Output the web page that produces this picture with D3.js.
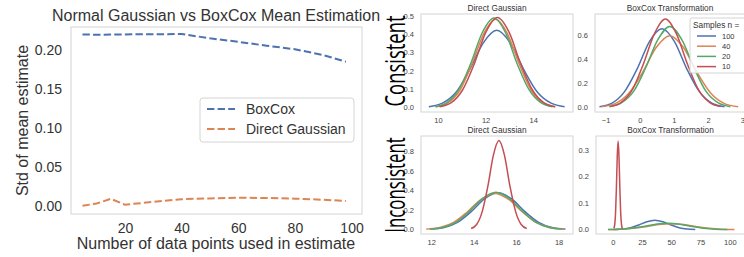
<!DOCTYPE html>
<html>
<head>
<meta charset="utf-8">
<title>Normal Gaussian vs BoxCox</title>
<script src="https://d3js.org/d3.v7.min.js"></script>
<style>
  body { margin: 0; background: #fff; }
  svg { display: block; font-family: "Liberation Sans", Arial, sans-serif; }
  .frame { fill: none; stroke: #d4d4d4; stroke-width: 1px; }
  .axis path { display: none; }
  .axis line { display: none; }
</style>
</head>
<body>
<svg width="744" height="257"></svg>
<script>
// ---- left chart: std of mean estimate ----
var nPoints   = [5, 10, 15, 20, 30, 40, 50, 60, 70, 80, 90, 98];
var boxcoxStd = [0.2200, 0.2195, 0.2198, 0.2200, 0.2202, 0.2205, 0.2150, 0.2105, 0.2055, 0.2010, 0.1935, 0.1850];
var directStd = [0.0000, 0.0030, 0.0090, 0.0015, 0.0050, 0.0085, 0.0095, 0.0105, 0.0100, 0.0092, 0.0078, 0.0062];
var lineLabels = ["BoxCox", "Direct Gaussian"];
var leftXTicks = [20, 40, 60, 80, 100];
var leftYTicks = [0, 0.05, 0.10, 0.15, 0.20];

// ---- right panels: fitted densities, one curve per sample size ----
var sampleSizes = ["100", "40", "20", "10"];

var consDirectX = [
  [9.62, 10.19, 10.76, 11.33, 11.90, 12.47, 13.04, 13.61, 14.18, 14.75, 15.32],
  [9.93, 10.43, 10.93, 11.42, 11.92, 12.42, 12.92, 13.42, 13.91, 14.41, 14.91],
  [9.89, 10.38, 10.87, 11.37, 11.86, 12.35, 12.84, 13.33, 13.83, 14.32, 14.81],
  [10.07, 10.56, 11.04, 11.53, 12.01, 12.50, 12.99, 13.47, 13.96, 14.44, 14.93]
];
var consDirectY = [
  [0.005, 0.024, 0.083, 0.205, 0.351, 0.420, 0.351, 0.205, 0.083, 0.024, 0.005],
  [0.005, 0.027, 0.095, 0.234, 0.401, 0.480, 0.401, 0.234, 0.095, 0.027, 0.005],
  [0.005, 0.027, 0.096, 0.237, 0.407, 0.487, 0.407, 0.237, 0.096, 0.027, 0.005],
  [0.005, 0.027, 0.097, 0.239, 0.409, 0.490, 0.409, 0.239, 0.097, 0.027, 0.005]
];

var consBoxcoxX = [
  [-1.18, -0.81, -0.45, -0.08, 0.28, 0.65, 1.02, 1.38, 1.75, 2.11, 2.48],
  [-1.12, -0.72, -0.32, 0.08, 0.48, 0.88, 1.28, 1.68, 2.08, 2.48, 2.88],
  [-0.89, -0.54, -0.18, 0.17, 0.53, 0.88, 1.23, 1.59, 1.94, 2.30, 2.65],
  [-0.87, -0.55, -0.22, 0.10, 0.43, 0.75, 1.07, 1.40, 1.72, 2.05, 2.37]
];
var consBoxcoxY = [
  [0.007, 0.037, 0.130, 0.319, 0.547, 0.655, 0.547, 0.319, 0.130, 0.037, 0.007],
  [0.007, 0.033, 0.118, 0.291, 0.499, 0.598, 0.499, 0.291, 0.118, 0.033, 0.007],
  [0.007, 0.038, 0.134, 0.329, 0.564, 0.675, 0.564, 0.329, 0.134, 0.038, 0.007],
  [0.008, 0.041, 0.146, 0.358, 0.615, 0.736, 0.615, 0.358, 0.146, 0.041, 0.008]
];

var inconDirectX = [
  [11.97, 12.61, 13.24, 13.88, 14.51, 15.15, 15.79, 16.42, 17.06, 17.69, 18.33],
  [11.76, 12.41, 13.06, 13.70, 14.35, 15.00, 15.65, 16.30, 16.94, 17.59, 18.24],
  [11.93, 12.55, 13.18, 13.80, 14.43, 15.05, 15.67, 16.30, 16.92, 17.55, 18.17],
  [13.88, 14.14, 14.40, 14.67, 14.93, 15.19, 15.45, 15.71, 15.98, 16.24, 16.50]
];
var inconDirectY = [
  [0.004, 0.021, 0.074, 0.183, 0.314, 0.376, 0.314, 0.183, 0.074, 0.021, 0.004],
  [0.004, 0.021, 0.073, 0.180, 0.309, 0.370, 0.309, 0.180, 0.073, 0.021, 0.004],
  [0.004, 0.021, 0.076, 0.186, 0.320, 0.383, 0.320, 0.186, 0.076, 0.021, 0.004],
  [0.010, 0.051, 0.181, 0.444, 0.763, 0.913, 0.763, 0.444, 0.181, 0.051, 0.010]
];

var inconBoxcoxX = [
  [1.5, 8.4, 15.3, 22.2, 29.1, 36.0, 42.9, 49.8, 56.7, 63.6, 70.5],
  [-4.0, 6.8, 17.6, 28.4, 39.2, 50.0, 60.8, 71.6, 82.4, 93.2, 104.0],
  [-4.0, 6.2, 16.4, 26.6, 36.8, 47.0, 57.2, 67.4, 77.6, 87.8, 98.0],
  [1.00, 1.72, 2.44, 3.16, 3.88, 4.60, 5.32, 6.04, 6.76, 7.48, 8.20]
];
var inconBoxcoxY = [
  [0.0004, 0.0020, 0.0069, 0.0170, 0.0292, 0.0350, 0.0292, 0.0170, 0.0069, 0.0020, 0.0004],
  [0.0002, 0.0012, 0.0044, 0.0107, 0.0184, 0.0220, 0.0184, 0.0107, 0.0044, 0.0012, 0.0002],
  [0.0003, 0.0013, 0.0047, 0.0114, 0.0196, 0.0235, 0.0196, 0.0114, 0.0047, 0.0013, 0.0003],
  [0.004, 0.019, 0.066, 0.162, 0.278, 0.333, 0.278, 0.162, 0.066, 0.019, 0.004]
];

var palette = ["#4c72b0", "#dd8452", "#55a868", "#c44e52"];

var svg = d3.select("svg");

// ================= left chart =================
var left = svg.append("g");
var xL = d3.scaleLinear().domain([0.95, 103.7]).range([71, 362]);
var yL = d3.scaleLinear().domain([-0.0105, 0.2295]).range([214, 27]);

left.append("rect").attr("class", "frame")
    .attr("x", 71).attr("y", 27).attr("width", 291).attr("height", 187);

left.append("g").attr("class", "axis")
    .attr("transform", "translate(0,214)")
    .call(d3.axisBottom(xL).tickValues(leftXTicks).tickSize(0).tickPadding(9.5))
    .selectAll("text").attr("font-size", 14).attr("fill", "#333")
    .style("font-family", "Liberation Sans, Arial, sans-serif");

left.append("g").attr("class", "axis")
    .attr("transform", "translate(71,0)")
    .call(d3.axisLeft(yL).tickValues(leftYTicks).tickFormat(d3.format(".2f")).tickSize(0).tickPadding(9))
    .selectAll("text").attr("font-size", 14).attr("fill", "#333")
    .style("font-family", "Liberation Sans, Arial, sans-serif");

var lineL = d3.line()
    .x(function(d) { return xL(d[0]); })
    .y(function(d) { return yL(d[1]); });

[boxcoxStd, directStd].forEach(function(series, i) {
  left.append("path")
      .attr("d", lineL(d3.zip(nPoints, series)))
      .attr("fill", "none")
      .attr("stroke", palette[i])
      .attr("stroke-width", 2)
      .attr("stroke-dasharray", "7.4,3.2");
});

left.append("text")
    .attr("x", 216).attr("y", 21)
    .attr("text-anchor", "middle")
    .attr("font-size", 16).attr("fill", "#333")
    .text("Normal Gaussian vs BoxCox Mean Estimation");

left.append("text")
    .attr("x", 216).attr("y", 249)
    .attr("text-anchor", "middle")
    .attr("font-size", 16).attr("fill", "#333")
    .text("Number of data points used in estimate");

left.append("text")
    .attr("transform", "translate(28,120.5) rotate(-90)")
    .attr("text-anchor", "middle")
    .attr("font-size", 16).attr("fill", "#333")
    .text("Std of mean estimate");

// legend
var leg = left.append("g");
leg.append("rect")
    .attr("x", 200).attr("y", 98).attr("width", 154).attr("height", 44)
    .attr("rx", 3)
    .attr("fill", "#fff").attr("stroke", "#d4d4d4");
lineLabels.forEach(function(lbl, i) {
  var yy = 109 + i * 20;
  leg.append("line")
      .attr("x1", 207).attr("x2", 235).attr("y1", yy).attr("y2", yy)
      .attr("stroke", palette[i]).attr("stroke-width", 2)
      .attr("stroke-dasharray", "7.4,3.2");
  leg.append("text")
      .attr("x", 246).attr("y", yy).attr("dy", "0.35em")
      .attr("font-size", 14).attr("fill", "#333")
      .text(lbl);
});

// ================= right panels =================
function drawPanel(cfg) {
  var g = svg.append("g");
  var x = d3.scaleLinear().domain(cfg.xDomain).range([cfg.x0, cfg.x0 + cfg.w]);
  var y = d3.scaleLinear().domain(cfg.yDomain).range([cfg.y0 + cfg.h, cfg.y0]);

  g.append("rect").attr("class", "frame")
      .attr("x", cfg.x0).attr("y", cfg.y0).attr("width", cfg.w).attr("height", cfg.h);

  g.append("g").attr("class", "axis")
      .attr("transform", "translate(0," + (cfg.y0 + cfg.h) + ")")
      .call(d3.axisBottom(x).tickValues(cfg.xTicks).tickFormat(cfg.xFormat).tickSize(0).tickPadding(6))
      .selectAll("text").attr("font-size", 7.5).attr("fill", "#444")
      .style("font-family", "Liberation Sans, Arial, sans-serif");

  g.append("g").attr("class", "axis")
      .attr("transform", "translate(" + cfg.x0 + ",0)")
      .call(d3.axisLeft(y).tickValues(cfg.yTicks).tickFormat(d3.format(".1f")).tickSize(0).tickPadding(7))
      .selectAll("text").attr("font-size", 7.5).attr("fill", "#444")
      .style("font-family", "Liberation Sans, Arial, sans-serif");

  var line = d3.line()
      .x(function(d) { return x(d[0]); })
      .y(function(d) { return y(d[1]); })
      .curve(d3.curveMonotoneX);

  cfg.xs.forEach(function(xs, i) {
    g.append("path")
        .attr("d", line(d3.zip(xs, cfg.ys[i])))
        .attr("fill", "none")
        .attr("stroke", palette[i])
        .attr("stroke-width", 1.5);
  });

  g.append("text")
      .attr("x", cfg.x0 + cfg.w / 2).attr("y", cfg.y0 - 3)
      .attr("text-anchor", "middle")
      .attr("font-size", 8.3).attr("fill", "#333")
      .text(cfg.title);
  return g;
}

drawPanel({
  x0: 421, y0: 14, w: 152, h: 98,
  xDomain: [9.29, 15.67], yDomain: [-0.024, 0.509],
  xTicks: [10, 12, 14], xFormat: d3.format("d"),
  yTicks: [0, 0.1, 0.2, 0.3, 0.4, 0.5],
  xs: consDirectX, ys: consDirectY, title: "Direct Gaussian"
});
var tr = drawPanel({
  x0: 595, y0: 14, w: 150, h: 98,
  xDomain: [-1.31, 3.08], yDomain: [-0.037, 0.778],
  xTicks: [-1, 0, 1, 2, 3], xFormat: d3.format("d"),
  yTicks: [0, 0.2, 0.4, 0.6],
  xs: consBoxcoxX, ys: consBoxcoxY, title: "BoxCox Transformation"
});
drawPanel({
  x0: 421, y0: 136, w: 152, h: 98,
  xDomain: [11.52, 18.68], yDomain: [-0.046, 0.959],
  xTicks: [12, 14, 16, 18], xFormat: d3.format("d"),
  yTicks: [0, 0.2, 0.4, 0.6, 0.8],
  xs: inconDirectX, ys: inconDirectY, title: "Direct Gaussian"
});
drawPanel({
  x0: 596, y0: 136, w: 149, h: 98,
  xDomain: [-14.3, 113], yDomain: [-0.017, 0.352],
  xTicks: [0, 25, 50, 75, 100], xFormat: d3.format("d"),
  yTicks: [0, 0.1, 0.2, 0.3],
  xs: inconBoxcoxX, ys: inconBoxcoxY, title: "BoxCox Transformation"
});

// legend for sample sizes (top right panel)
var leg2 = tr.append("g");
leg2.append("rect")
    .attr("x", 690).attr("y", 18).attr("width", 60).attr("height", 55)
    .attr("rx", 2)
    .attr("fill", "#fff").attr("fill-opacity", 0.85).attr("stroke", "#d4d4d4");
leg2.append("text")
    .attr("x", 693).attr("y", 28)
    .attr("font-size", 8.3).attr("fill", "#333")
    .text("Samples n =");
sampleSizes.forEach(function(n, i) {
  var yy = 36 + i * 10.2;
  leg2.append("line")
      .attr("x1", 697).attr("x2", 716).attr("y1", yy).attr("y2", yy)
      .attr("stroke", palette[i]).attr("stroke-width", 1.5);
  leg2.append("text")
      .attr("x", 722).attr("y", yy).attr("dy", "0.35em")
      .attr("font-size", 7.5).attr("fill", "#333")
      .text(n);
});

// row labels (the source image squeezes them along the text direction)
[["Consistent", 61, 0.66], ["Inconsistent", 185, 0.6]].forEach(function(r) {
  svg.append("text")
      .attr("transform", "translate(405," + r[1] + ") rotate(-90) scale(" + r[2] + ",1)")
      .attr("text-anchor", "middle")
      .attr("font-family", "Open Sans, sans-serif")
      .attr("font-size", 28)
      .attr("fill", "#000")
      .text(r[0]);
});
</script>
</body>
</html>
